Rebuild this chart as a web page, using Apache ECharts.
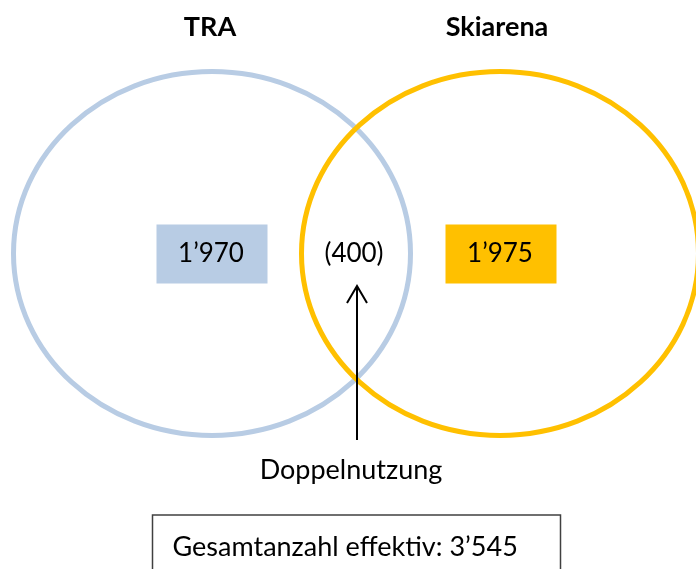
<!DOCTYPE html>
<html>
<head>
<meta charset="utf-8">
<script src="https://cdn.jsdelivr.net/npm/echarts@6/dist/echarts.min.js"></script>
<style>
html,body{margin:0;padding:0;background:#fff;}
#chart{width:696px;height:569px;}
</style>
</head>
<body>
<div id="chart"></div>
<script>
// ---- data ----
const setNames = ['TRA', 'Skiarena'];
const exclusiveCounts = [1970, 1975];
const overlapCount = 400;
const overlapLabel = 'Doppelnutzung';
const totalLabel = 'Gesamtanzahl effektiv';
const totalCount = 3545;

// ---- helpers ----
function fmt(n) {
  return String(n).replace(/\B(?=(\d{3})+(?!\d))/g, '\u2019');
}

// layout (pixel-like coordinate space via hidden axes)
const FONT = 'Lato';
const setColors = ['#b8cce4', '#ffc000'];
const setCenters = [[212, 253.5], [500, 253.5]];
const setRadii = [[198.5, 182], [198.5, 182]];
const boxCenters = [[212, 254], [501, 254]];
const titlePos = [[210, 27], [497, 27]];

const chart = echarts.init(document.getElementById('chart'), null, {renderer: 'canvas'});

const option = {
  animation: false,
  backgroundColor: '#ffffff',
  grid: {left: 0, right: 0, top: 0, bottom: 0},
  xAxis: {type: 'value', min: 0, max: 696, show: false},
  yAxis: {type: 'value', min: 0, max: 569, inverse: true, show: false},
  series: [
    {
      // set ellipses, drawn from the set list (Skiarena on top)
      type: 'custom',
      coordinateSystem: 'cartesian2d',
      z: 2,
      data: setNames.map((name, i) => ({name, value: [setCenters[i][0], setCenters[i][1], setRadii[i][0], setRadii[i][1], i]})),
      renderItem: function (params, api) {
        const c = api.coord([api.value(0), api.value(1)]);
        const s = api.size([api.value(2), api.value(3)]);
        const i = api.value(4);
        return {
          type: 'ellipse',
          z2: i,
          shape: {cx: c[0], cy: c[1], rx: s[0], ry: s[1]},
          style: {fill: null, stroke: setColors[i], lineWidth: 5}
        };
      }
    },
    {
      // set titles
      type: 'custom',
      coordinateSystem: 'cartesian2d',
      z: 3,
      data: setNames.map((name, i) => ({name, value: [titlePos[i][0], titlePos[i][1], i]})),
      renderItem: function (params, api) {
        const c = api.coord([api.value(0), api.value(1)]);
        return {
          type: 'text',
          style: {
            x: c[0], y: c[1], text: setNames[api.value(2)],
            fill: '#000', font: 'bold 27px ' + FONT,
            align: 'center', verticalAlign: 'middle'
          }
        };
      }
    },
    {
      // exclusive count boxes
      type: 'custom',
      coordinateSystem: 'cartesian2d',
      z: 4,
      data: exclusiveCounts.map((v, i) => ({name: setNames[i], value: [boxCenters[i][0], boxCenters[i][1], v, i]})),
      renderItem: function (params, api) {
        const c = api.coord([api.value(0), api.value(1)]);
        const i = api.value(3);
        return {
          type: 'group',
          children: [
            {type: 'rect', shape: {x: c[0] - 55.5, y: c[1] - 29.5, width: 111, height: 59}, style: {fill: setColors[i]}},
            {type: 'text', style: {x: c[0] - 1, y: c[1], text: fmt(api.value(2)), fill: '#000', font: '26px ' + FONT, align: 'center', verticalAlign: 'middle'}}
          ]
        };
      }
    },
    {
      // overlap count, arrow and caption
      type: 'custom',
      coordinateSystem: 'cartesian2d',
      z: 5,
      data: [{name: overlapLabel, value: [357, 254, overlapCount]}],
      renderItem: function (params, api) {
        const c = api.coord([api.value(0), api.value(1)]);
        const x = c[0], y = c[1];
        return {
          type: 'group',
          children: [
            {type: 'text', style: {x: x - 3, y: y, text: '(' + fmt(api.value(2)) + ')', fill: '#000', font: '26px ' + FONT, align: 'center', verticalAlign: 'middle'}},
            {type: 'line', shape: {x1: x, y1: y + 33, x2: x, y2: y + 186}, style: {stroke: '#000', lineWidth: 2}},
            {type: 'polyline', shape: {points: [[x - 10, y + 49], [x, y + 32], [x + 10, y + 49]]}, style: {stroke: '#000', lineWidth: 2, fill: null}},
            {type: 'text', style: {x: x - 6, y: y + 216, text: overlapLabel, fill: '#000', font: '27px ' + FONT, align: 'center', verticalAlign: 'middle'}}
          ]
        };
      }
    },
    {
      // total box
      type: 'custom',
      coordinateSystem: 'cartesian2d',
      z: 5,
      data: [{name: totalLabel, value: [152.5, 515, totalCount]}],
      renderItem: function (params, api) {
        const c = api.coord([api.value(0), api.value(1)]);
        return {
          type: 'group',
          children: [
            {type: 'rect', shape: {x: c[0], y: c[1], width: 408, height: 70}, style: {fill: '#fff', stroke: '#404040', lineWidth: 1.5}},
            {type: 'text', style: {x: c[0] + 20, y: c[1] + 32, text: totalLabel + ': ' + fmt(api.value(2)), fill: '#000', font: '27px ' + FONT, align: 'left', verticalAlign: 'middle'}}
          ]
        };
      }
    }
  ]
};

chart.setOption(option);
</script>
</body>
</html>
